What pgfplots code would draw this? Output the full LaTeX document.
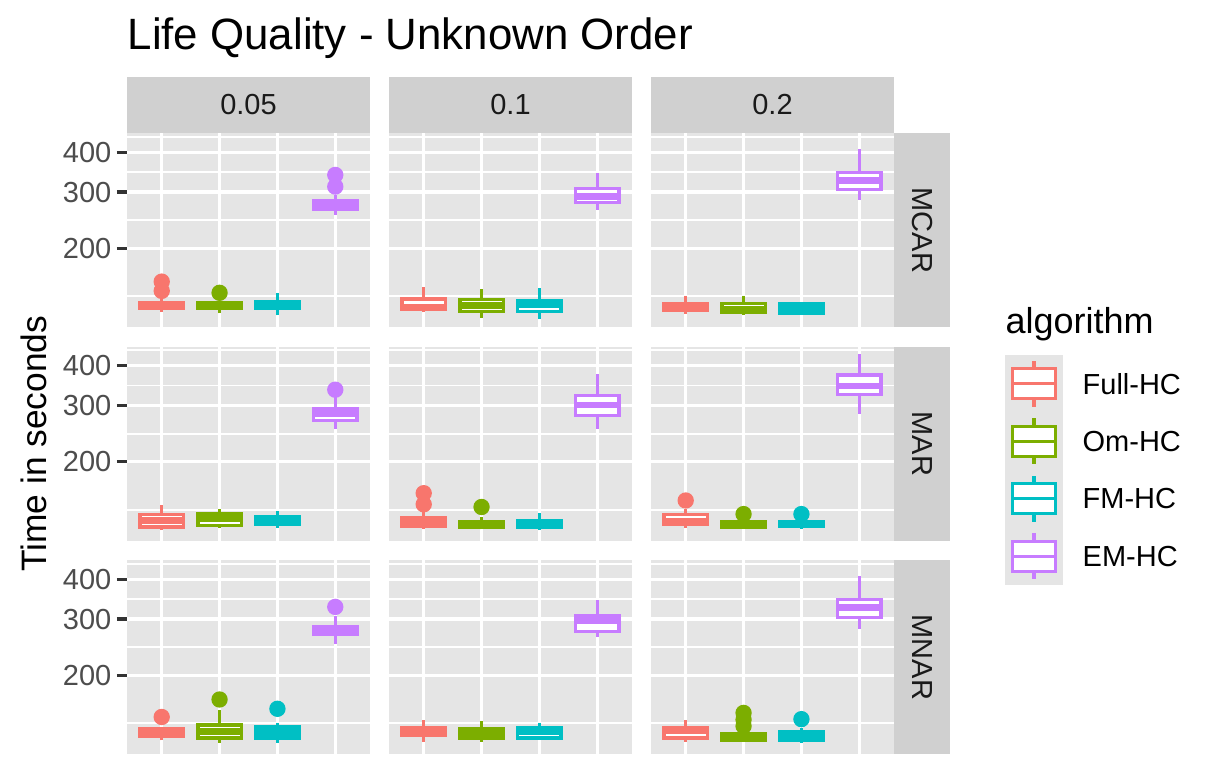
\documentclass[border=0pt]{standalone}
\usepackage{fontspec}
\setmainfont{Liberation Sans}
\usepackage{pgfplots}
\pgfplotsset{compat=1.18}
\definecolor{cFull}{HTML}{F8766D}
\definecolor{cOm}{HTML}{7CAE00}
\definecolor{cFM}{HTML}{00BFC4}
\definecolor{cEM}{HTML}{C77CFF}
\definecolor{panelbg}{HTML}{E5E5E5}
\definecolor{stripbg}{HTML}{D0D0D0}
\definecolor{grey20}{HTML}{333333}
\definecolor{grey30}{HTML}{4D4D4D}
\definecolor{grey10}{HTML}{1A1A1A}
% boxplot: colour, position, lower whisker, Q1, median, Q3, upper whisker
\newcommand\bp[7]{%
 \pgfmathsetmacro\bpL{#2-0.375}\pgfmathsetmacro\bpR{#2+0.375}%
 \edef\bpdo{%
  \noexpand\addplot[draw=#1, line width=1pt] coordinates {(#2,#3) (#2,#4)};
  \noexpand\addplot[draw=#1, line width=1pt] coordinates {(#2,#6) (#2,#7)};
  \noexpand\addplot[draw=#1, fill=white, line width=1pt, line cap=rect] coordinates {(\bpL,#4) (\bpR,#4) (\bpR,#6) (\bpL,#6) (\bpL,#4)};
  \noexpand\addplot[draw=#1, line width=2pt] coordinates {(\bpL,#5) (\bpR,#5)};
 }\bpdo}
\newcommand\outl[2]{\addplot[only marks, mark=*, mark size=2.25pt, color=#1] coordinates {#2};}
\pgfplotsset{
 facetpanel/.style={
  scale only axis, width=72.9pt, height=58.2pt,
  y coord trafo/.code={\pgfmathparse{ln(##1)}},
  y coord inv trafo/.code={\pgfmathparse{exp(##1)}},
  ymin=112.9, ymax=457.9, xmin=0.4, xmax=4.6,
  xtick={1,2,3,4}, xticklabels={},
  ytick={200,300,400}, minor ytick={141.42,244.95,346.41,447.21}, yticklabels={},
  grid=both, major grid style={white, line width=1pt}, minor grid style={white, line width=0.5pt},
  axis background/.style={fill=panelbg}, axis line style={draw=none},
  major tick length=0pt, minor tick length=0pt, tick pos=left,
  xtick style={draw=none},
 },
 facetleft/.style={
  yticklabels={200,300,400}, tick align=outside,
  major tick length=3pt, ytick style={draw=grey20, line width=1pt},
  xtick style={draw=none},
  yticklabel style={font=\fontsize{8.7}{10}\selectfont, text=grey30, inner sep=1.5pt},
 },
}
\begin{document}
\begin{tikzpicture}
\useasboundingbox (0,0) rectangle (365.1pt,234.6pt);
\fill[white] (0,0) rectangle (365.1pt,234.6pt);
% ---------- Row 1: MCAR ----------
\begin{axis}[facetpanel, facetleft, anchor=south west, at={(38.1pt,136.35pt)}]
\bp{cFull}{1}{126.2}{129.5}{132.4}{135.5}{139.3}
\bp{cOm}{2}{125.1}{129.5}{132}{135.5}{136.8}
\bp{cFM}{3}{123.1}{129.3}{132.5}{136.2}{144.3}
\bp{cEM}{4}{254.3}{264.7}{272}{281.3}{294.3}
\outl{cFull}{(1,147.0) (1,157.2)}
\outl{cOm}{(2,145)}
\outl{cEM}{(4,312.1) (4,339.5)}
\end{axis}
\begin{axis}[facetpanel, anchor=south west, at={(116.7pt,136.35pt)}]
\bp{cFull}{1}{125.9}{128.6}{130.6}{138.6}{151.3}
\bp{cOm}{2}{121.2}{126.6}{132.2}{137.9}{148.6}
\bp{cFM}{3}{119.9}{127}{133.3}{137.3}{149.8}
\bp{cEM}{4}{263.9}{277.8}{290.9}{307.2}{343.1}
\end{axis}
\begin{axis}[facetpanel, anchor=south west, at={(195.3pt,136.35pt)}]
\bp{cFull}{1}{124.6}{127.8}{131}{134.3}{141.6}
\bp{cOm}{2}{123.4}{125.8}{129.1}{134.3}{141.6}
\bp{cFM}{3}{124}{124.9}{129}{133.7}{134.5}
\bp{cEM}{4}{283.7}{305.5}{325.9}{344.7}{409}
\end{axis}
% ---------- Row 2: MAR ----------
\begin{axis}[facetpanel, facetleft, anchor=south west, at={(38.1pt,72.3pt)}]
\bp{cFull}{1}{122}{125}{130.9}{136.7}{146.2}
\bp{cOm}{2}{124.3}{126.5}{132.4}{137.2}{141.9}
\bp{cFM}{3}{123.9}{127}{130.9}{134.7}{140.1}
\bp{cEM}{4}{252.9}{269.1}{282.3}{292.6}{318.4}
\outl{cEM}{(4,336.4)}
\end{axis}
\begin{axis}[facetpanel, anchor=south west, at={(116.7pt,72.3pt)}]
\bp{cFull}{1}{123}{125.1}{129.4}{133.4}{141.4}
\bp{cOm}{2}{122.8}{124.6}{127.2}{129.8}{134.5}
\bp{cFM}{3}{122}{124.6}{127.6}{130.9}{138.5}
\bp{cEM}{4}{253.4}{279.8}{301.3}{323.3}{376.6}
\outl{cFull}{(1,147.1) (1,159.4)}
\outl{cOm}{(2,144.3)}
\end{axis}
\begin{axis}[facetpanel, anchor=south west, at={(195.3pt,72.3pt)}]
\bp{cFull}{1}{123.9}{127}{129.7}{136.7}{142.2}
\bp{cOm}{2}{123.1}{124.9}{127.2}{129.4}{130.5}
\bp{cFM}{3}{123}{125.3}{127.6}{129.8}{130.5}
\bp{cEM}{4}{282.5}{324.9}{345.6}{374.4}{433.7}
\outl{cFull}{(1,151.2)}
\outl{cOm}{(2,137.1)}
\outl{cFM}{(3,137.1)}
\end{axis}
% ---------- Row 3: MNAR ----------
\begin{axis}[facetpanel, facetleft, anchor=south west, at={(38.1pt,8.25pt)}]
\bp{cFull}{1}{124.9}{128.7}{133.3}{135.9}{136.5}
\bp{cOm}{2}{122.9}{127.2}{133.4}{139.7}{156.2}
\bp{cFM}{3}{122.9}{127.3}{132.6}{137.6}{142.2}
\bp{cEM}{4}{250.2}{268.7}{275.9}{283.2}{306.6}
\outl{cFull}{(1,148)}
\outl{cOm}{(2,167.9)}
\outl{cFM}{(3,157)}
\outl{cEM}{(4,327.5)}
\end{axis}
\begin{axis}[facetpanel, anchor=south west, at={(116.7pt,8.25pt)}]
\bp{cFull}{1}{123.4}{129.3}{132.4}{137}{144.3}
\bp{cOm}{2}{123.7}{127.3}{131.9}{135.9}{144}
\bp{cFM}{3}{125.8}{127.2}{133.4}{137}{142.2}
\bp{cEM}{4}{263.2}{274.3}{297.2}{306.8}{343.1}
\end{axis}
\begin{axis}[facetpanel, anchor=south west, at={(195.3pt,8.25pt)}]
\bp{cFull}{1}{123.7}{127.3}{134}{137}{145}
\bp{cOm}{2}{124.6}{125.2}{128.4}{131.4}{132}
\bp{cFM}{3}{122.9}{125}{128.5}{132.8}{136.8}
\bp{cEM}{4}{279.6}{303.9}{326.2}{345.3}{409}
\outl{cOm}{(2,138.6) (2,145.1) (2,152.4)}
\outl{cFM}{(3,145.7)}
\end{axis}
% ---------- strips ----------
\foreach \x/\t in {38.1/0.05, 116.7/0.1, 195.3/0.2}{
  \fill[stripbg] (\x pt,194.8pt) rectangle ++(72.9pt,16.6pt);
  \node[font=\fontsize{8.7}{10}\selectfont, text=grey10] at (\x pt+36.45pt,203.1pt) {\t};
}
\foreach \y/\t in {136.35/MCAR, 72.3/MAR, 8.25/MNAR}{
  \fill[stripbg] (268.2pt,\y pt) rectangle ++(16.8pt,58.2pt);
  \node[font=\fontsize{8.7}{10}\selectfont, text=grey10, rotate=-90] at (276.6pt,\y pt+29.1pt) {\t};
}
% ---------- titles ----------
\node[anchor=base west, inner sep=0pt, font=\fontsize{13.15}{15}\selectfont] at (38.1pt,219.6pt) {Life Quality - Unknown Order};
\node[rotate=90, inner sep=0pt, font=\fontsize{10.6}{12}\selectfont] at (10.3pt,101.5pt) {Time in seconds};
% ---------- legend ----------
\node[anchor=base west, inner sep=0pt, font=\fontsize{10.8}{12}\selectfont] at (301.5pt,134.4pt) {algorithm};
\fill[panelbg] (301.5pt,59.1pt) rectangle (318.8pt,128.1pt);
\foreach \yc/\c/\t in {119.475/cFull/Full-HC, 102.225/cOm/Om-HC, 84.975/cFM/FM-HC, 67.725/cEM/EM-HC}{
  \draw[\c, line width=1pt] (310.2pt,\yc pt+4.5pt) -- (310.2pt,\yc pt+6.9pt);
  \draw[\c, line width=1pt] (310.2pt,\yc pt-4.5pt) -- (310.2pt,\yc pt-6.9pt);
  \draw[\c, line width=1pt, fill=white] (303.75pt,\yc pt-4.5pt) rectangle (316.65pt,\yc pt+4.5pt);
  \draw[\c, line width=1pt] (303.75pt,\yc pt) -- (316.65pt,\yc pt);
  \node[anchor=west, inner sep=0pt, font=\fontsize{8.7}{10}\selectfont] at (324.6pt,\yc pt) {\t};
}
\end{tikzpicture}
\end{document}
